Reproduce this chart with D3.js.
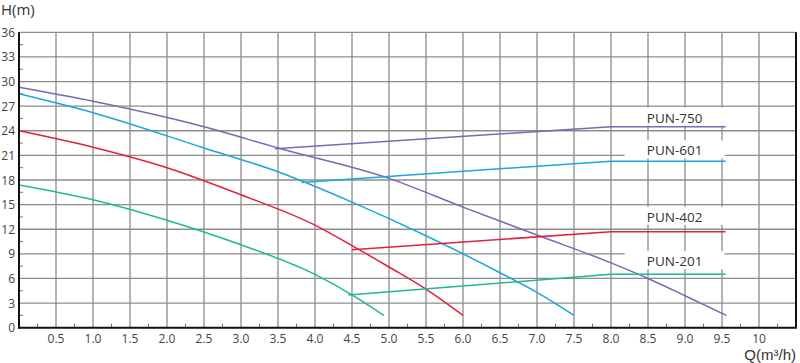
<!DOCTYPE html>
<html><head><meta charset="utf-8">
<script src="https://cdn.jsdelivr.net/npm/d3@7"></script>
<style>
html,body{margin:0;padding:0;background:#fff;}
svg text{font-family:"Open Sans","Noto Sans",sans-serif;}
svg text.qlab{font-family:"Liberation Sans",Arial,sans-serif;}
</style></head>
<body><svg id="c" width="800" height="363"></svg>
<script>
// ---- data ----
const xTicks = [0.5,1.0,1.5,2.0,2.5,3.0,3.5,4.0,4.5,5.0,5.5,6.0,6.5,7.0,7.5,8.0,8.5,9.0,9.5,10];
const xTickLabels = ["0.5","1.0","1.5","2.0","2.5","3.0","3.5","4.0","4.5","5.0","5.5","6.0","6.5","7.0","7.5","8.0","8.5","9.0","9.5","10"];
const yTicks = [0,3,6,9,12,15,18,21,24,27,30,33,36];
const seriesNames = ["PUN-750","PUN-601","PUN-402","PUN-201"];
const seriesColors = ["#7a68b3","#1ba6de","#e3203c","#1fb898"];

// pump curves (Q, H)
const q750 = [0, 1.0, 2.5, 3.5, 5.0, 6.0, 7.0, 8.0, 8.5, 9.0, 9.56];
const h750 = [29.3, 27.6, 24.5, 21.9, 18.2, 14.7, 11.3, 7.9, 6.0, 3.9, 1.5];
const q601 = [0, 1.0, 2.5, 3.5, 4.5, 5.5, 6.5, 7.0, 7.5];
const h601 = [28.5, 26.2, 21.9, 19.0, 15.3, 11.2, 6.7, 4.3, 1.5];
const q402 = [0, 1.0, 2.0, 3.0, 4.0, 4.5, 5.0, 5.5, 6.0];
const h402 = [24.0, 22.0, 19.5, 16.2, 12.5, 10.0, 7.4, 4.7, 1.5];
const q201 = [0, 1.0, 2.0, 3.0, 4.0, 4.5, 4.93];
const h201 = [17.4, 15.6, 13.1, 10.1, 6.5, 4.0, 1.5];

// power lines (Q, H)
const p750q = [3.46, 8.0, 9.55];
const p750h = [21.8, 24.5, 24.5];
const p601q = [3.82, 8.0, 9.55];
const p601h = [17.7, 20.3, 20.3];
const p402q = [4.5, 8.0, 9.55];
const p402h = [9.5, 11.7, 11.7];
const p201q = [4.45, 8.0, 9.55];
const p201h = [4.0, 6.5, 6.5];

const labelQ = [8.86, 8.86, 8.86, 8.86];
const labelH = [25.0, 21.0, 12.9, 7.5];

// ---- drawing ----
const svg = d3.select("#c");
const x = d3.scaleLinear().domain([0,10.5]).range([19,796]);
const y = d3.scaleLinear().domain([0,36]).range([327.7,32.3]);

const grid = svg.append("g");
xTicks.forEach(v=>{
  grid.append("line").attr("x1",x(v)).attr("x2",x(v)).attr("y1",y(0)).attr("y2",y(36))
    .attr("stroke","#8c8c8c").attr("stroke-width",1.3);
});
yTicks.filter(v=>v>0).forEach(v=>{
  grid.append("line").attr("x1",x(0)).attr("x2",x(10.5)).attr("y1",y(v)).attr("y2",y(v))
    .attr("stroke","#8c8c8c").attr("stroke-width",1.3);
});

// minor ticks
d3.range(1.5,36,3).forEach(v=>{
  svg.append("line").attr("x1",x(0)).attr("x2",x(0)+4).attr("y1",y(v)).attr("y2",y(v))
    .attr("stroke","#777").attr("stroke-width",1);
});
d3.range(0.25,10.5,0.5).forEach(v=>{
  svg.append("line").attr("x1",x(v)).attr("x2",x(v)).attr("y1",y(0)).attr("y2",y(0)-4)
    .attr("stroke","#777").attr("stroke-width",1);
});

// label background boxes
seriesNames.forEach((n,i)=>{
  svg.append("rect").attr("x",x(labelQ[i])-50).attr("y",y(labelH[i])-15)
    .attr("width",100).attr("height",18).attr("fill","#fff");
});

const line = d3.line().x(d=>x(d[0])).y(d=>y(d[1])).curve(d3.curveMonotoneX);
const lin = d3.line().x(d=>x(d[0])).y(d=>y(d[1]));
const curves = [[q750,h750],[q601,h601],[q402,h402],[q201,h201]];
const powers = [[p750q,p750h],[p601q,p601h],[p402q,p402h],[p201q,p201h]];
curves.forEach((c,i)=>{
  svg.append("path").attr("d",line(c[0].map((q,j)=>[q,c[1][j]])))
    .attr("fill","none").attr("stroke",seriesColors[i]).attr("stroke-width",1.5);
});
powers.forEach((c,i)=>{
  svg.append("path").attr("d",lin(c[0].map((q,j)=>[q,c[1][j]])))
    .attr("fill","none").attr("stroke",seriesColors[i]).attr("stroke-width",1.5);
});

// labels
seriesNames.forEach((n,i)=>{
  svg.append("text").attr("x",x(labelQ[i])).attr("y",y(labelH[i])).attr("text-anchor","middle")
    .attr("font-size",13.5).attr("fill","#333").text(n);
});

// axes frame
svg.append("line").attr("x1",x(0)).attr("x2",x(0)).attr("y1",y(36)).attr("y2",y(0)+1)
  .attr("stroke","#111").attr("stroke-width",2);
svg.append("line").attr("x1",x(0)-1).attr("x2",x(10.5)+1).attr("y1",y(0)).attr("y2",y(0))
  .attr("stroke","#111").attr("stroke-width",2);
svg.append("line").attr("x1",x(10.5)).attr("x2",x(10.5)).attr("y1",y(36)).attr("y2",y(0))
  .attr("stroke","#111").attr("stroke-width",2);

// tick labels
yTicks.forEach(v=>{
  svg.append("text").attr("x",15).attr("y",y(v)+4.5).attr("text-anchor","end")
    .attr("font-size",12).attr("fill","#444").text(v);
});
xTicks.forEach((v,i)=>{
  svg.append("text").attr("x",x(v)).attr("y",343).attr("text-anchor","middle")
    .attr("font-size",12).attr("fill","#444").text(xTickLabels[i]);
});

svg.append("text").attr("x",1).attr("y",15).attr("font-size",15).attr("fill","#333").text("H(m)");
svg.append("text").attr("class","qlab").attr("x",796).attr("y",359.5).attr("text-anchor","end").attr("font-size",15).attr("fill","#333").text("Q(m³/h)");
</script></body></html>
